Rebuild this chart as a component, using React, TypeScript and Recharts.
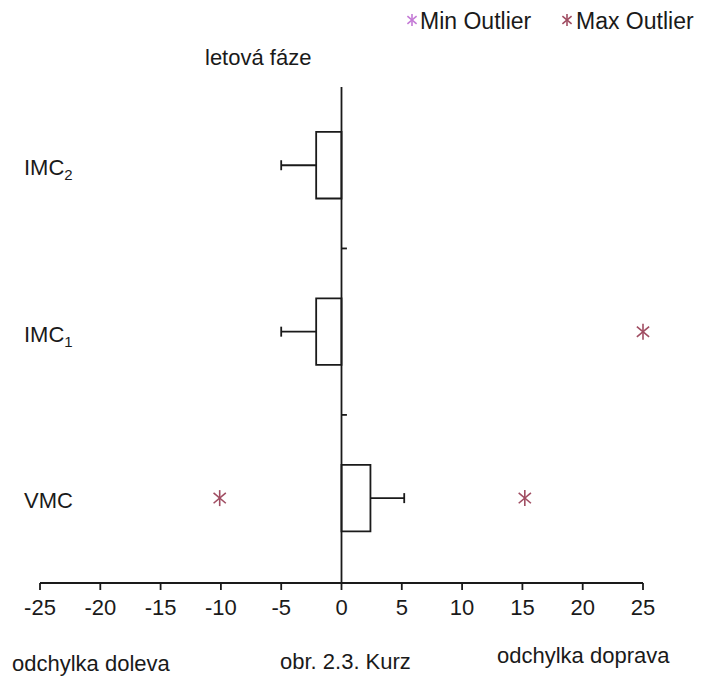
import React from 'react'
import { ComposedChart, XAxis, YAxis, Scatter, ReferenceArea, ReferenceLine } from 'recharts'

// flight phases, bottom to top
const categories = ['VMC', 'IMC1', 'IMC2']
const positions = [1, 2, 3]
const boxLow = [0, -2.1, -2.1]
const boxHigh = [2.4, 0, 0]
const whiskerEnd = [5.2, -5.0, -5.0]
const maxOutliers = [
  { value: -10.1, pos: 1 },
  { value: 15.2, pos: 1 },
  { value: 25.0, pos: 2 },
]
const minOutliers: { value: number; pos: number }[] = []
const xTicks = [-25, -20, -15, -10, -5, 0, 5, 10, 15, 20, 25]
const midTicks = [1.5, 2.5]

const INK = '#1a1a1a'
const MAX_COLOR = '#a04d62'
const MIN_COLOR = '#c47ad6'
const FONT = '"Liberation Sans", Arial, sans-serif'

function Asterisk({ cx, cy, r, color }: { cx: number; cy: number; r: number; color: string }) {
  const arms = [90, 40, 140].map((a) => {
    const rad = (a * Math.PI) / 180
    const dx = Math.cos(rad) * r
    const dy = Math.sin(rad) * r
    return <line key={a} x1={cx - dx} y1={cy - dy} x2={cx + dx} y2={cy + dy} stroke={color} strokeWidth={1.6} />
  })
  return <g>{arms}</g>
}

function CategoryTick(props: any) {
  const { y, payload } = props
  const idx = positions.indexOf(payload.value)
  if (idx < 0) return null
  const name = categories[idx]
  const m = name.match(/^(.*?)(\d+)$/)
  return (
    <text x={24} y={y + 10} fontSize={22} fontFamily={FONT} fill={INK}>
      {m ? m[1] : name}
      {m && (
        <tspan dy={5} fontSize={15}>
          {m[2]}
        </tspan>
      )}
    </text>
  )
}

export default function App() {
  const boxHalf = 0.2
  const capHalf = 0.03
  const sw = 1.8
  return (
    <div style={{ position: 'absolute', left: 0, top: 0, width: 702, height: 677, background: '#fff', overflow: 'hidden' }}>
      <ComposedChart
        width={702}
        height={677}
        margin={{ top: 87, right: 59, bottom: 64, left: 0 }}
      >
        <XAxis
          type="number"
          dataKey="value"
          domain={[-25, 25]}
          ticks={xTicks}
          height={30}
          stroke={INK}
          strokeWidth={sw}
          tickSize={7}
          tickMargin={9}
          tick={{ fontSize: 22, fontFamily: FONT, fill: INK }}
        />
        <YAxis
          type="number"
          dataKey="pos"
          domain={[0.49, 3.47]}
          ticks={positions}
          width={40}
          axisLine={false}
          tickLine={false}
          tick={<CategoryTick />}
        />
        {positions.map((p, i) => (
          <ReferenceArea
            key={'box' + i}
            x1={boxLow[i]}
            x2={boxHigh[i]}
            y1={p - boxHalf}
            y2={p + boxHalf}
            fill="#fff"
            fillOpacity={1}
            stroke={INK}
            strokeWidth={sw}
          />
        ))}
        {positions.map((p, i) => (
          <ReferenceLine
            key={'wh' + i}
            segment={[
              { x: whiskerEnd[i] < 0 ? boxLow[i] : boxHigh[i], y: p },
              { x: whiskerEnd[i], y: p },
            ]}
            stroke={INK}
            strokeWidth={sw}
          />
        ))}
        {positions.map((p, i) => (
          <ReferenceLine
            key={'cap' + i}
            segment={[
              { x: whiskerEnd[i], y: p - capHalf },
              { x: whiskerEnd[i], y: p + capHalf },
            ]}
            stroke={INK}
            strokeWidth={sw}
          />
        ))}
        <ReferenceLine x={0} stroke={INK} strokeWidth={sw} />
        {midTicks.map((t) => (
          <ReferenceLine
            key={'mt' + t}
            segment={[
              { x: 0, y: t },
              { x: 0.45, y: t },
            ]}
            stroke={INK}
            strokeWidth={sw}
          />
        ))}
        <Scatter
          name="Min Outlier"
          data={minOutliers}
          isAnimationActive={false}
          shape={(p: any) => <Asterisk cx={p.cx} cy={p.cy} r={8} color={MIN_COLOR} />}
        />
        <Scatter
          name="Max Outlier"
          data={maxOutliers}
          isAnimationActive={false}
          shape={(p: any) => <Asterisk cx={p.cx} cy={p.cy} r={8} color={MAX_COLOR} />}
        />
      </ComposedChart>
      <svg
        width={702}
        height={677}
        style={{ position: 'absolute', left: 0, top: 0, pointerEvents: 'none' }}
        fontFamily={FONT}
        fill={INK}
      >
        <Asterisk cx={412} cy={20} r={6} color={MIN_COLOR} />
        <text x={420} y={29} fontSize={23}>Min Outlier</text>
        <Asterisk cx={567} cy={20} r={6} color={MAX_COLOR} />
        <text x={576} y={29} fontSize={23}>Max Outlier</text>
        <text x={205} y={65} fontSize={22}>letová fáze</text>
        <text x={12} y={671} fontSize={22}>odchylka doleva</text>
        <text x={497} y={663} fontSize={22}>odchylka doprava</text>
        <text x={280} y={669} fontSize={22}>obr. 2.3. Kurz</text>
      </svg>
    </div>
  )
}
